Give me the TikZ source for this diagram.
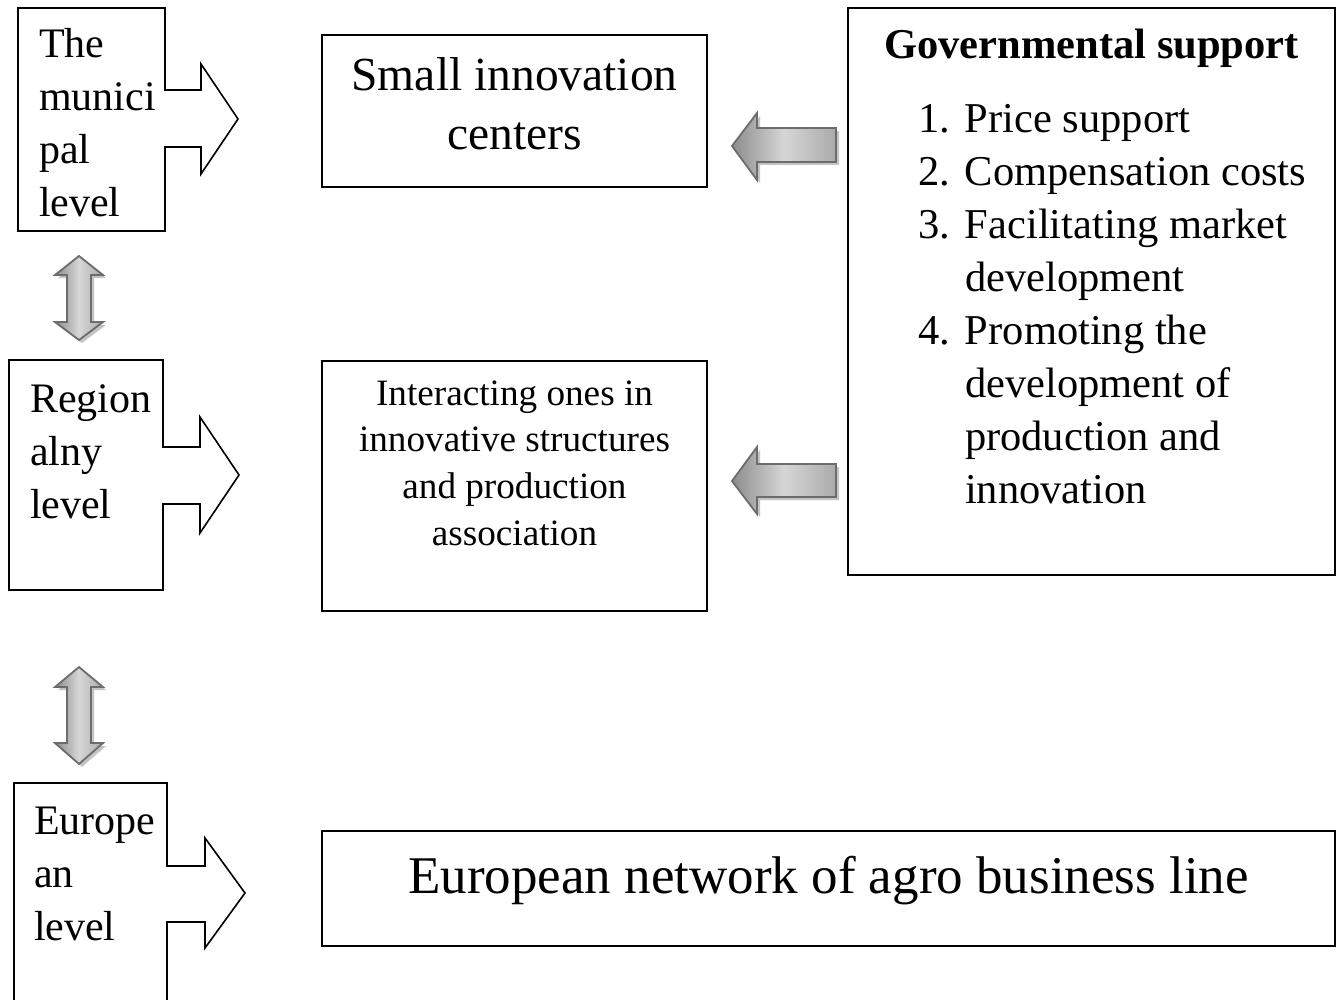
\documentclass[tikz,border=0pt]{standalone}
\usepackage{fontspec}
\setmainfont{Liberation Serif}
\definecolor{arrowedge}{RGB}{108,108,108}
\definecolor{arrowshadow}{RGB}{196,196,196}
\definecolor{shadedark}{RGB}{140,140,140}
\definecolor{shadelight}{RGB}{214,214,214}
\definecolor{shademid}{RGB}{170,170,170}
\begin{document}
\begin{tikzpicture}[x=1pt,y=-1pt,
  frame/.style={draw=black, line width=1.6pt, fill=white, inner sep=0pt, outer sep=0pt},
  callout/.style={draw=black, line width=1.6pt, line join=miter, fill=white},
  txt/.style={inner sep=0pt, outer sep=0pt},
  levelfont/.style={font=\fontsize{42}{53}\selectfont},
  blockshadow/.style={fill=arrowshadow, draw=none},
  hblock/.style={draw=arrowedge, line width=1.8pt, line join=miter,
    left color=shadedark, right color=shademid, middle color=shadelight},
  vblock/.style={draw=arrowedge, line width=1.8pt, line join=miter,
    left color=shadedark, right color=shademid, middle color=shadelight},
]
\fill[white] (0,0) rectangle (1340,1000);
\useasboundingbox (0,0) rectangle (1340,1000);
\clip (0,0) rectangle (1340,1000);

% ---- level callouts (box with a right-pointing arrow) ----
\draw[callout] (18,8) -- (165,8) -- (165,90) -- (201,90) -- (201,64) -- (238,119)
  -- (201,174) -- (201,147) -- (165,147) -- (165,231) -- (18,231) -- cycle;
\draw[callout] (9,360) -- (163,360) -- (163,447) -- (200,447) -- (200,417) -- (239,475)
  -- (200,533) -- (200,504) -- (163,504) -- (163,590) -- (9,590) -- cycle;
\draw[callout] (14,1010) -- (14,783) -- (167,783) -- (167,866) -- (205,866) -- (205,838) -- (245,893)
  -- (205,948) -- (205,922) -- (167,922) -- (167,1010);

\node[txt, levelfont, anchor=base west] (muni) at (39,58)
  {\begin{tabular}[t]{@{}l@{}}The\\munici\\pal\\level\end{tabular}};
\node[txt, levelfont, anchor=base west] (regio) at (30,412)
  {\begin{tabular}[t]{@{}l@{}}Region\\alny\\level\end{tabular}};
\node[txt, levelfont, anchor=base west] (europ) at (34,834)
  {\begin{tabular}[t]{@{}l@{}}Europe\\an\\level\end{tabular}};

% ---- vertical double arrows between levels ----
\path[blockshadow, shift={(3,3)}] (79,256) -- (103,275) -- (91,275) -- (91,322) -- (103,322)
  -- (79,340) -- (55,322) -- (67,322) -- (67,275) -- (55,275) -- cycle;
\path[vblock] (79,256) -- (103,275) -- (91,275) -- (91,322) -- (103,322)
  -- (79,340) -- (55,322) -- (67,322) -- (67,275) -- (55,275) -- cycle;
\path[blockshadow, shift={(3,3)}] (79,667) -- (103,687) -- (91,687) -- (91,743) -- (103,743)
  -- (79,764) -- (55,743) -- (67,743) -- (67,687) -- (55,687) -- cycle;
\path[vblock] (79,667) -- (103,687) -- (91,687) -- (91,743) -- (103,743)
  -- (79,764) -- (55,743) -- (67,743) -- (67,687) -- (55,687) -- cycle;

% ---- boxes ----
\node[frame, minimum width=385pt, minimum height=152pt] (small) at (514.5,111) {};
\node[frame, minimum width=385pt, minimum height=250pt] (inter) at (514.5,486) {};
\node[frame, minimum width=487pt, minimum height=567pt] (gov) at (1091.5,291.5) {};
\node[frame, minimum width=1013pt, minimum height=115pt] (agro) at (828.5,888.5) {};

\node[txt, font=\fontsize{47.5}{59}\selectfont, anchor=base] (smalltxt) at (514.5,91)
  {\begin{tabular}[t]{@{}c@{}}Small innovation\\centers\end{tabular}};
\node[txt, font=\fontsize{37.2}{46.7}\selectfont, anchor=base] (intertxt) at (514.5,405)
  {\begin{tabular}[t]{@{}c@{}}Interacting ones in\\innovative structures\\and production\\association\end{tabular}};
\node[txt, font=\fontsize{42.5}{53}\selectfont\bfseries, anchor=base] (govtitle) at (1091.5,59)
  {Governmental support};
\node[txt, font=\fontsize{42.5}{53}\selectfont, anchor=base west] (govlist) at (918,133)
  {\begin{tabular}[t]{@{}l@{}l@{}}
    \makebox[47pt][l]{1.} & Price support\\
    \makebox[47pt][l]{2.} & Compensation costs\\
    \makebox[47pt][l]{3.} & Facilitating market\\
     & development\\
    \makebox[47pt][l]{4.} & Promoting the\\
     & development of\\
     & production and\\
     & innovation
  \end{tabular}};
\node[txt, font=\fontsize{53}{60}\selectfont, anchor=base] (agrotxt) at (828.5,893)
  {European network of agro business line};

% ---- grey arrows from governmental support ----
\path[blockshadow, shift={(3,3)}] (732,146) -- (757,113) -- (757,128) -- (836,128)
  -- (836,162) -- (757,162) -- (757,180) -- cycle;
\path[hblock] (732,146) -- (757,113) -- (757,128) -- (836,128)
  -- (836,162) -- (757,162) -- (757,180) -- cycle;
\path[blockshadow, shift={(3,3)}] (732,481) -- (757,447) -- (757,464) -- (836,464)
  -- (836,497) -- (757,497) -- (757,514) -- cycle;
\path[hblock] (732,481) -- (757,447) -- (757,464) -- (836,464)
  -- (836,497) -- (757,497) -- (757,514) -- cycle;
\end{tikzpicture}
\end{document}
